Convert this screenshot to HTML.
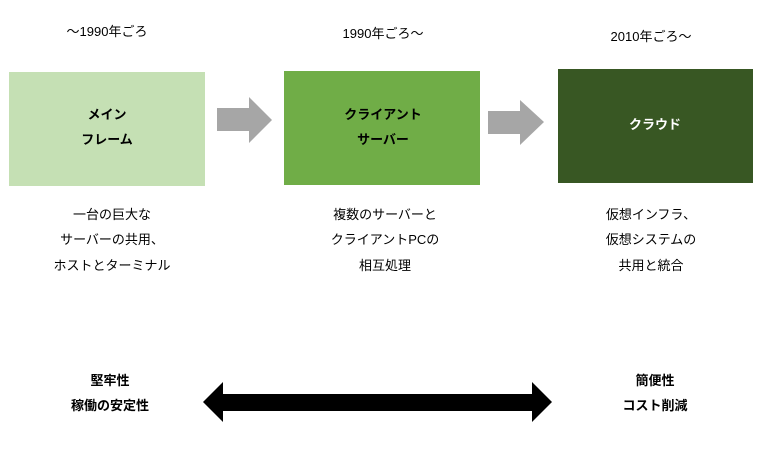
<!DOCTYPE html>
<html><head><meta charset="utf-8"><style>
html,body{margin:0;padding:0;background:#fff;}
body{width:763px;height:470px;position:relative;overflow:hidden;font-family:"Liberation Sans","Noto Sans CJK JP",sans-serif;color:#000;}
.t{position:absolute;transform:translateX(-50%);white-space:nowrap;font-size:13px;line-height:14px;}
.b{font-weight:bold;}
.box{position:absolute;}
</style></head><body>
<div class="t" style="left:107px;top:25px;">〜1990年ごろ</div>
<div class="t" style="left:383px;top:27px;">1990年ごろ〜</div>
<div class="t" style="left:651px;top:30px;">2010年ごろ〜</div>

<div class="box" style="left:9px;top:72px;width:196px;height:114px;background:#c5e0b4;"></div>
<div class="box" style="left:284px;top:71px;width:196px;height:114px;background:#70ad47;"></div>
<div class="box" style="left:558px;top:69px;width:195px;height:114px;background:#385723;"></div>

<svg style="position:absolute;left:0;top:0" width="763" height="470">
<polygon points="217,108 249,108 249,97 272,120 249,143 249,131 217,131" fill="#a6a6a6"/>
<polygon points="488,111 520,111 520,100 544,122 520,145 520,134 488,134" fill="#a6a6a6"/>
<polygon points="203,402 223,382 223,394 532,394 532,382 552,402 532,422 532,411 223,411 223,422" fill="#000"/>
</svg>

<div class="t b" style="left:107px;top:108px;">メイン</div>
<div class="t b" style="left:107px;top:133px;">フレーム</div>
<div class="t b" style="left:383px;top:108px;">クライアント</div>
<div class="t b" style="left:383px;top:133px;">サーバー</div>
<div class="t b" style="left:655px;top:118px;color:#fff;">クラウド</div>

<div class="t" style="left:112px;top:208px;">一台の巨大な</div>
<div class="t" style="left:112px;top:233px;">サーバーの共用、</div>
<div class="t" style="left:112px;top:259px;">ホストとターミナル</div>
<div class="t" style="left:385px;top:208px;">複数のサーバーと</div>
<div class="t" style="left:385px;top:233px;">クライアントPCの</div>
<div class="t" style="left:385px;top:259px;">相互処理</div>
<div class="t" style="left:651px;top:208px;">仮想インフラ、</div>
<div class="t" style="left:651px;top:233px;">仮想システムの</div>
<div class="t" style="left:651px;top:259px;">共用と統合</div>

<div class="t b" style="left:110px;top:374px;">堅牢性</div>
<div class="t b" style="left:110px;top:399px;">稼働の安定性</div>
<div class="t b" style="left:655px;top:374px;">簡便性</div>
<div class="t b" style="left:655px;top:399px;">コスト削減</div>
</body></html>
